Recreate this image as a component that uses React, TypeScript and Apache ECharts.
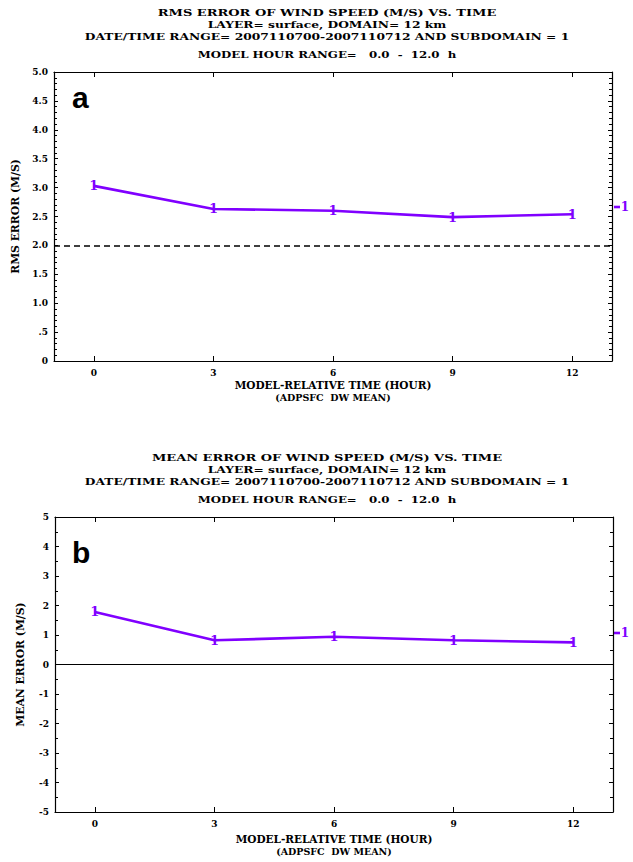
import React, { useEffect, useRef } from "react";
import * as echarts from "echarts";

const hours = [0, 3, 6, 9, 12];
const rmsError = [3.03, 2.63, 2.6, 2.49, 2.54];
const meanError = [1.78, 0.82, 0.94, 0.82, 0.75];
const rmsRefLine = 2.0;
const meanRefLine = 0;
const seriesLabel = "1";

const rmsTitle = [
  "RMS ERROR OF WIND SPEED (M/S) VS. TIME",
  "LAYER= surface, DOMAIN= 12 km",
  "DATE/TIME RANGE= 2007110700-2007110712 AND SUBDOMAIN = 1",
  "MODEL HOUR RANGE=\u00a0\u00a0\u00a00.0\u00a0\u00a0-\u00a0\u00a012.0\u00a0\u00a0h",
];
const meanTitle = [
  "MEAN ERROR OF WIND SPEED (M/S) VS. TIME",
  "LAYER= surface, DOMAIN= 12 km",
  "DATE/TIME RANGE= 2007110700-2007110712 AND SUBDOMAIN = 1",
  "MODEL HOUR RANGE=\u00a0\u00a0\u00a00.0\u00a0\u00a0-\u00a0\u00a012.0\u00a0\u00a0h",
];
const xName = "MODEL-RELATIVE TIME (HOUR)";
const xSubName = "(ADPSFC\u00a0\u00a0DW MEAN)";
const rmsYName = "RMS ERROR (M/S)";
const meanYName = "MEAN ERROR (M/S)";

const PURPLE = "#8000ff";
const SERIF = "'DejaVu Serif', 'Liberation Serif', serif";

export default function App() {
  const ref = useRef<HTMLDivElement>(null);
  useEffect(() => {
    if (!ref.current) return;
    const chart = echarts.init(ref.current, null, { renderer: "svg" });

    const gridA = { left: 54, top: 72, width: 558, height: 289 };
    const gridB = { left: 55, top: 517, width: 558, height: 295 };

    const xBottom = (gi: number, gap: number) => ({
      gridIndex: gi,
      type: "value",
      min: -1,
      max: 13,
      position: "bottom",
      axisLine: { onZero: false, lineStyle: { color: "#000", width: 1.2 } },
      axisTick: { inside: true, length: 5, customValues: hours, lineStyle: { color: "#000", width: 1 } },
      axisLabel: {
        customValues: hours,
        fontSize: 9,
        fontWeight: "bold",
        color: "#000",
        fontFamily: SERIF,
        margin: 7,
      },
      splitLine: { show: false },
      name: xName + "\n{s|" + xSubName + "}",
      nameLocation: "middle",
      nameGap: gap,
      nameTextStyle: {
        fontFamily: SERIF,
        fontWeight: "bold",
        fontSize: 10.5,
        color: "#000",
        lineHeight: 13,
        rich: { s: { fontFamily: SERIF, fontWeight: "bold", fontSize: 9.5, color: "#000", lineHeight: 13 } },
      },
    });
    const xTop = (gi: number) => ({
      gridIndex: gi,
      type: "value",
      min: -1,
      max: 13,
      position: "top",
      axisLine: { onZero: false, lineStyle: { color: "#000", width: 1.2 } },
      axisTick: { inside: true, length: 5, customValues: hours, lineStyle: { color: "#000", width: 1 } },
      axisLabel: { show: false, customValues: hours },
      splitLine: { show: false },
    });
    const yLeft = (gi: number, min: number, max: number, interval: number, minorSplit: number, name: string, fmt: (v: number) => string) => ({
      gridIndex: gi,
      type: "value",
      min,
      max,
      interval,
      position: "left",
      axisLine: { show: true, onZero: false, lineStyle: { color: "#000", width: 1.2 } },
      axisTick: { inside: true, length: 4, lineStyle: { color: "#000", width: 1 } },
      minorTick: { show: true, splitNumber: minorSplit, length: 3, lineStyle: { color: "#000", width: 1 } },
      axisLabel: { formatter: fmt, fontSize: 9, fontWeight: "bold", color: "#000", fontFamily: SERIF, margin: 6 },
      splitLine: { show: false },
      minorSplitLine: { show: false },
      name,
      nameLocation: "middle",
      nameRotate: 90,
      nameGap: 29,
      nameTextStyle: { fontFamily: SERIF, fontWeight: "bold", fontSize: 10.8, color: "#000" },
    });
    const yRight = (gi: number, min: number, max: number, interval: number, minorSplit: number) => ({
      gridIndex: gi,
      type: "value",
      min,
      max,
      interval,
      position: "right",
      axisLine: { show: true, onZero: false, lineStyle: { color: "#000", width: 1.2 } },
      axisTick: { inside: true, length: 4, lineStyle: { color: "#000", width: 1 } },
      minorTick: { show: true, splitNumber: minorSplit, length: 3, lineStyle: { color: "#000", width: 1 } },
      axisLabel: { show: false },
      splitLine: { show: false },
      minorSplitLine: { show: false },
    });

    const rmsFmt = (v: number) => {
      if (Math.abs(v) < 1e-9) return "0";
      if (Math.abs(v - 0.5) < 1e-9) return ".5";
      return v.toFixed(1);
    };
    const meanFmt = (v: number) => String(Math.round(v));

    const markerSeries = (xi: number, yi: number, vals: number[]) => ({
      type: "custom",
      xAxisIndex: xi,
      yAxisIndex: yi,
      silent: true,
      data: hours.map((h, i) => [h, vals[i]]),
      renderItem: (params: any, api: any) => {
        const pt = api.coord([api.value(0), api.value(1)]);
        return {
          type: "text",
          x: pt[0],
          y: pt[1],
          style: {
            text: seriesLabel,
            fill: PURPLE,
            font: "bold 13px " + SERIF,
            align: "center",
            verticalAlign: "middle",
            textAlign: "center",
            textVerticalAlign: "middle",
          },
        };
      },
    });

    const lineSeries = (xi: number, yi: number, vals: number[], ref: number, dashed: boolean) => ({
      type: "line",
      xAxisIndex: xi,
      yAxisIndex: yi,
      data: hours.map((h, i) => [h, vals[i]]),
      symbol: "none",
      lineStyle: { color: PURPLE, width: 2.6 },
      z: 3,
      markLine: {
        silent: true,
        symbol: ["none", "none"],
        label: { show: false },
        lineStyle: { color: "#000", width: dashed ? 1.6 : 1.1, type: dashed ? [6, 4] : "solid" },
        data: [{ yAxis: ref }],
      },
    });

    const titleTexts = (lines: string[], top: number) => {
      const ys = [top, top + 12, top + 24, top + 42];
      const fonts = [13, 12.3, 12.3, 11.8];
      return lines.map((t, i) => ({
        type: "text",
        x: 327,
        y: ys[i],
        scaleY: 0.74,
        style: {
          text: t,
          fill: "#000",
          font: "bold " + fonts[i] + "px " + SERIF,
          textAlign: "center",
          textVerticalAlign: "middle",
          align: "center",
          verticalAlign: "middle",
        },
      }));
    };

    const legendMark = (y: number) => [
      { type: "line", shape: { x1: 614, y1: y, x2: 620, y2: y }, style: { stroke: PURPLE, lineWidth: 2.6 } },
      {
        type: "text",
        x: 625,
        y,
        style: {
          text: seriesLabel,
          fill: PURPLE,
          font: "bold 12px " + SERIF,
          textAlign: "center",
          textVerticalAlign: "middle",
          align: "center",
          verticalAlign: "middle",
        },
      },
    ];

    const panelLetter = (t: string, y: number) => ({
      type: "text",
      x: 72,
      y,
      style: {
        text: t,
        fill: "#000",
        font: "bold 30px 'Liberation Sans', Arial, sans-serif",
        textAlign: "left",
        textVerticalAlign: "middle",
        align: "left",
        verticalAlign: "middle",
      },
    });

    chart.setOption({
      animation: false,
      backgroundColor: "#fff",
      grid: [gridA, gridB],
      xAxis: [xBottom(0, 17), xTop(0), xBottom(1, 20), xTop(1)],
      yAxis: [
        yLeft(0, 0, 5, 0.5, 5, rmsYName, rmsFmt),
        yRight(0, 0, 5, 0.5, 5),
        yLeft(1, -5, 5, 1, 2, meanYName, meanFmt),
        yRight(1, -5, 5, 1, 2),
      ],
      series: [
        lineSeries(0, 0, rmsError, rmsRefLine, true),
        markerSeries(0, 0, rmsError),
        lineSeries(2, 2, meanError, meanRefLine, false),
        markerSeries(2, 2, meanError),
      ],
      graphic: [
        ...titleTexts(rmsTitle, 13),
        ...titleTexts(meanTitle, 458),
        ...legendMark(207),
        ...legendMark(633),
        panelLetter("a", 97),
        panelLetter("b", 552),
      ],
    });
    return () => chart.dispose();
  }, []);
  return <div ref={ref} style={{ position: "fixed", left: 0, top: 0, width: 633, height: 862 }} />;
}
